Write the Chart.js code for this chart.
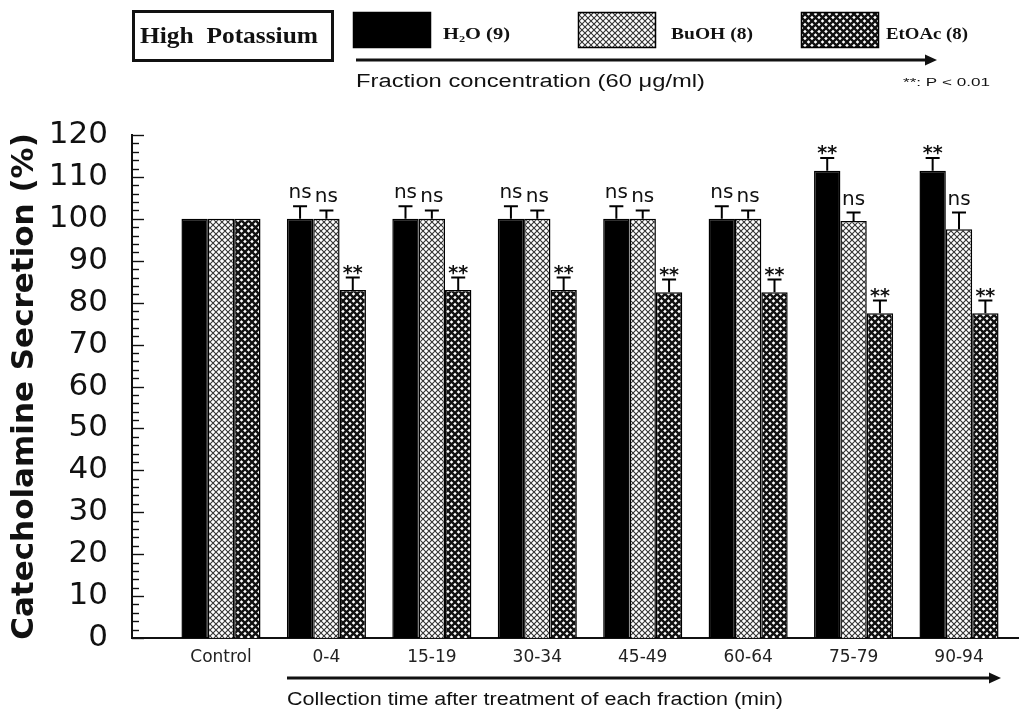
<!DOCTYPE html>
<html>
<head>
<meta charset="utf-8">
<script src="https://cdn.jsdelivr.net/npm/chart.js@4"></script>
<style>
  body { margin: 0; background: #fff; }
</style>
</head>
<body>
<canvas id="c" width="1019" height="720"></canvas>
<script>
// data
const categories = ['Control', '0-4', '15-19', '30-34', '45-49', '60-64', '75-79', '90-94'];
const h2o      = [100, 100, 100, 100, 100, 100, 111.5, 111.5];
const h2oErr   = [0, 3, 3, 3, 3, 3, 3, 3];
const buoh     = [100, 100, 100, 100, 100, 100, 99.5, 97.5];
const buohErr  = [0, 2, 2, 2, 2, 2, 2, 4];
const etoac    = [100, 83, 83, 83, 82.5, 82.5, 77.5, 77.5];
const etoacErr = [0, 3, 3, 3, 3, 3, 3, 3];
const h2oSig   = ['', 'ns', 'ns', 'ns', 'ns', 'ns', '**', '**'];
const buohSig  = ['', 'ns', 'ns', 'ns', 'ns', 'ns', 'ns', 'ns'];
const etoacSig = ['', '**', '**', '**', '**', '**', '**', '**'];
const seriesNames = ['H\u2082O (9)', 'BuOH (8)', 'EtOAc (8)'];
const yMin = 0, yMax = 120, yStep = 10, yMinorStep = 2;

function makePattern(size, draw) {
    const p = document.createElement('canvas');
    p.width = size; p.height = size;
    const g = p.getContext('2d');
    g.fillStyle = '#fff';
    g.fillRect(0, 0, size, size);
    draw(g, size);
    return document.getElementById('c').getContext('2d').createPattern(p, 'repeat');
}

const lightHatch = makePattern(6, (g, s) => {
    g.strokeStyle = '#333';
    g.lineWidth = 1.1;
    g.beginPath();
    g.moveTo(-1, -1); g.lineTo(s + 1, s + 1);
    g.moveTo(s + 1, -1); g.lineTo(-1, s + 1);
    g.stroke();
});

const darkHatch = makePattern(7, (g, s) => {
    g.strokeStyle = '#111';
    g.lineWidth = 2.4;
    g.beginPath();
    g.moveTo(-1, -1); g.lineTo(s + 1, s + 1);
    g.moveTo(s + 1, -1); g.lineTo(-1, s + 1);
    g.stroke();
});

const fills = ['#000', lightHatch, darkHatch];

function points(vals) {
    return vals.map((v, i) => ({ x: i, y: v }));
}

// draw text squeezed/stretched to a given width
function fitText(ctx, text, x, y, w, font) {
    ctx.save();
    ctx.font = font;
    const m = ctx.measureText(text).width;
    ctx.translate(x, y);
    ctx.scale(w / m, 1);
    ctx.textAlign = 'left';
    ctx.textBaseline = 'alphabetic';
    ctx.fillText(text, 0, 0);
    ctx.restore();
}

function arrow(ctx, x1, x2, y, lw) {
    ctx.save();
    ctx.strokeStyle = '#111';
    ctx.fillStyle = '#111';
    ctx.lineWidth = lw;
    ctx.beginPath();
    ctx.moveTo(x1, y);
    ctx.lineTo(x2 - 8, y);
    ctx.stroke();
    ctx.beginPath();
    ctx.moveTo(x2, y);
    ctx.lineTo(x2 - 12, y - 5.5);
    ctx.lineTo(x2 - 12, y + 5.5);
    ctx.closePath();
    ctx.fill();
    ctx.restore();
}

const extras = {
    id: 'extras',
    afterDraw(chart) {
        const ctx = chart.ctx;
        const ys = chart.scales.y;
        const left = chart.chartArea.left;

        // inward ticks on y axis
        ctx.save();
        ctx.strokeStyle = '#111';
        ctx.lineWidth = 1.4;
        for (let v = yMin; v <= yMax; v += yMinorStep) {
            const py = Math.round(ys.getPixelForValue(v)) + 0.5;
            const len = v % yStep === 0 ? 12 : 7;
            ctx.beginPath();
            ctx.moveTo(left, py);
            ctx.lineTo(left + len, py);
            ctx.stroke();
        }
        ctx.restore();

        // error bars + significance marks
        const errs = [h2oErr, buohErr, etoacErr];
        const vals = [h2o, buoh, etoac];
        const sigs = [h2oSig, buohSig, etoacSig];
        ctx.save();
        ctx.strokeStyle = '#000';
        ctx.fillStyle = '#111';
        ctx.lineWidth = 2;
        chart.data.datasets.forEach((ds, di) => {
            const meta = chart.getDatasetMeta(di);
            meta.data.forEach((bar, i) => {
                const e = errs[di][i];
                let top = bar.y;
                if (e > 0) {
                    top = ys.getPixelForValue(vals[di][i] + e);
                    ctx.beginPath();
                    ctx.moveTo(bar.x, bar.y);
                    ctx.lineTo(bar.x, top);
                    ctx.moveTo(bar.x - 7, top);
                    ctx.lineTo(bar.x + 7, top);
                    ctx.stroke();
                }
                const s = sigs[di][i];
                if (s === 'ns') {
                    ctx.font = '20px "DejaVu Sans"';
                    ctx.textAlign = 'center';
                    ctx.textBaseline = 'alphabetic';
                    ctx.fillText('ns', bar.x, top - 8);
                } else if (s === '**') {
                    ctx.font = 'bold 19px "DejaVu Sans"';
                    ctx.textAlign = 'center';
                    ctx.textBaseline = 'alphabetic';
                    ctx.fillText('**', bar.x, top + 1);
                }
            });
        });
        ctx.restore();

        // header
        ctx.save();
        ctx.fillStyle = '#111';
        ctx.strokeStyle = '#111';
        ctx.lineWidth = 3;
        ctx.strokeRect(133.5, 11.5, 199, 49);
        fitText(ctx, 'High  Potassium', 140, 43, 178, 'bold 24px "Liberation Serif"');

        const patchX = [353, 578, 801];
        const textX = [443, 671, 886];
        const textW = [67, 82, 82];
        fills.forEach((f, k) => {
            ctx.fillStyle = f;
            ctx.fillRect(patchX[k], 12, 78, 36);
            ctx.lineWidth = 1.5;
            ctx.strokeStyle = '#000';
            ctx.strokeRect(patchX[k] + 0.5, 12.5, 77, 35);
            ctx.fillStyle = '#111';
            fitText(ctx, seriesNames[k], textX[k], 39, textW[k], 'bold 17px "Liberation Serif"');
        });

        arrow(ctx, 356, 937, 60, 3);
        fitText(ctx, 'Fraction concentration (60 \u03bcg/ml)', 356, 87, 349, '18px "Liberation Sans"');
        fitText(ctx, '**: P < 0.01', 903, 86, 87, '11px "Liberation Sans"');

        // bottom arrow and axis caption
        arrow(ctx, 287, 1001, 678, 3);
        fitText(ctx, 'Collection time after treatment of each fraction (min)', 287, 705, 496, '18px "Liberation Sans"');
        ctx.restore();
    }
};

new Chart(document.getElementById('c'), {
    type: 'bar',
    data: {
        datasets: [
            { label: seriesNames[0], data: points(h2o), backgroundColor: fills[0] },
            { label: seriesNames[1], data: points(buoh), backgroundColor: fills[1] },
            { label: seriesNames[2], data: points(etoac), backgroundColor: fills[2] }
        ]
    },
    options: {
        responsive: false,
        animation: false,
        devicePixelRatio: 1,
        layout: { padding: { top: 135, right: 0, bottom: 0, left: 0 } },
        datasets: {
            bar: {
                categoryPercentage: 0.75,
                barPercentage: 1,
                borderColor: '#000',
                borderWidth: 1.5
            }
        },
        plugins: {
            legend: { display: false },
            tooltip: { enabled: false }
        },
        scales: {
            x: {
                type: 'linear',
                offset: false,
                min: -0.844,
                max: 7.569,
                afterBuildTicks: s => { s.ticks = categories.map((c, i) => ({ value: i })); },
                afterFit: s => { s.height = 82; },
                grid: { display: false, drawTicks: false },
                border: { display: true, color: '#111', width: 2 },
                ticks: {
                    autoSkip: false,
                    maxRotation: 0,
                    padding: 9,
                    color: '#222',
                    font: { family: '"DejaVu Sans"', size: 17 },
                    callback: v => categories[v] ?? ''
                }
            },
            y: {
                min: yMin,
                max: yMax,
                afterFit: s => { s.width = 132; },
                grid: { display: false, drawTicks: false },
                border: { display: true, color: '#111', width: 2 },
                ticks: {
                    stepSize: yStep,
                    padding: 24,
                    color: '#111',
                    font: { family: '"DejaVu Sans"', size: 31 }
                },
                title: {
                    display: true,
                    text: 'Catecholamine Secretion (%)',
                    color: '#111',
                    padding: { top: 6, bottom: 0 },
                    font: { family: '"DejaVu Sans"', size: 31, weight: 'bold', lineHeight: 1.2 }
                }
            }
        }
    },
    plugins: [extras]
});
</script>
</body>
</html>
